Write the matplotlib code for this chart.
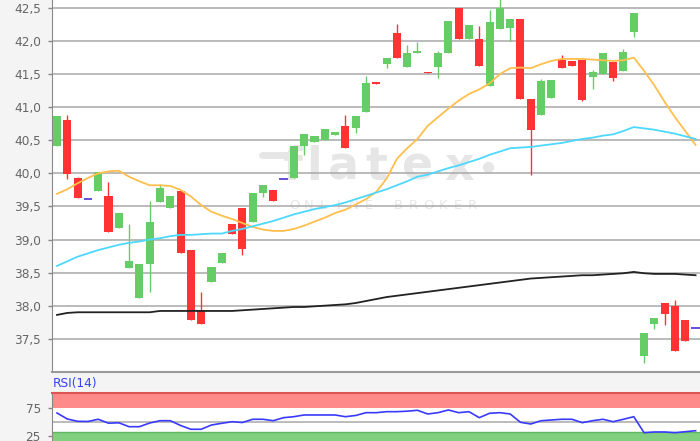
import numpy as np
import matplotlib.pyplot as plt

# price data, one entry per candle
opens = [40.42, 40.80, 39.93, 39.62, 39.73, 39.66, 39.18, 38.57, 38.12, 38.63,
         39.56, 39.48, 39.74, 38.84, 37.93, 38.36, 38.64, 39.23, 39.47, 39.26,
         39.70, 39.75, 39.92, 39.93, 40.41, 40.48, 40.50, 40.58, 40.71, 40.68,
         40.93, 41.37, 41.65, 42.12, 41.61, 41.82, 41.53, 41.61, 41.82, 42.50,
         42.03, 42.03, 41.32, 42.18, 42.20, 42.33, 41.13, 40.88, 41.14, 41.71,
         41.70, 41.71, 41.46, 41.50, 41.69, 41.55, 42.14, 37.24, 37.73, 38.04,
         38.00, 37.78, 37.66]
closes = [40.86, 39.99, 39.63, 39.62, 40.02, 39.12, 39.40, 38.67, 38.63, 39.27,
          39.78, 39.66, 38.80, 37.79, 37.73, 38.58, 38.80, 39.08, 38.85, 39.71,
          39.82, 39.58, 39.92, 40.41, 40.59, 40.57, 40.67, 40.63, 40.39, 40.87,
          41.37, 41.35, 41.74, 41.75, 41.82, 41.84, 41.51, 41.82, 42.31, 42.03,
          42.25, 41.62, 42.29, 42.50, 42.33, 41.12, 40.66, 41.40, 41.41, 41.59,
          41.63, 41.11, 41.54, 41.82, 41.44, 41.83, 42.43, 37.59, 37.82, 37.87,
          37.32, 37.46, 37.66]
highs = [40.87, 40.88, 39.94, 39.62, 40.02, 39.87, 39.40, 39.23, 38.63, 39.58,
         39.84, 39.66, 39.74, 38.84, 38.20, 38.58, 38.80, 39.23, 39.47, 39.71,
         39.82, 39.75, 39.92, 40.41, 40.59, 40.57, 40.67, 40.63, 40.88, 40.87,
         41.47, 41.37, 41.74, 42.26, 41.94, 41.99, 41.53, 41.85, 42.31, 42.50,
         42.25, 42.23, 42.47, 42.65, 42.33, 42.33, 41.13, 41.43, 41.41, 41.79,
         41.70, 41.71, 41.57, 41.82, 41.69, 41.88, 42.43, 37.59, 37.82, 38.04,
         38.08, 37.78, 37.66]
lows = [40.42, 39.92, 39.63, 39.62, 39.73, 39.12, 39.18, 38.57, 38.12, 38.20,
        39.56, 39.48, 38.80, 37.79, 37.73, 38.36, 38.64, 39.08, 38.77, 39.26,
        39.65, 39.58, 39.92, 39.93, 40.28, 40.48, 40.50, 40.58, 40.39, 40.61,
        40.93, 41.35, 41.59, 41.75, 41.61, 41.82, 41.51, 41.44, 41.82, 42.03,
        42.03, 41.62, 41.32, 42.18, 42.00, 41.12, 39.97, 40.88, 41.14, 41.59,
        41.63, 41.09, 41.28, 41.50, 41.40, 41.55, 42.06, 37.14, 37.65, 37.71,
        37.32, 37.46, 37.66]

# moving averages
ma_short = [39.69, 39.76, 39.85, 39.93, 40.00, 40.03, 40.04, 39.95, 39.88, 39.82,
            39.82, 39.81, 39.75, 39.65, 39.52, 39.42, 39.36, 39.31, 39.25, 39.19,
            39.15, 39.13, 39.13, 39.16, 39.21, 39.27, 39.33, 39.40, 39.45, 39.53,
            39.61, 39.72, 39.92, 40.22, 40.38, 40.52, 40.72, 40.85, 40.98, 41.10,
            41.20, 41.27, 41.36, 41.50, 41.59, 41.60, 41.59, 41.65, 41.70, 41.73,
            41.73, 41.73, 41.72, 41.71, 41.70, 41.71, 41.75, 41.55, 41.33, 41.08,
            40.85, 40.64, 40.43]
ma_mid = [38.60, 38.67, 38.74, 38.79, 38.84, 38.88, 38.92, 38.95, 38.97, 39.00,
          39.02, 39.05, 39.07, 39.07, 39.08, 39.09, 39.09, 39.13, 39.16, 39.20,
          39.24, 39.28, 39.33, 39.38, 39.42, 39.46, 39.49, 39.52, 39.56, 39.61,
          39.66, 39.71, 39.76, 39.82, 39.88, 39.95, 39.98, 40.03, 40.08, 40.12,
          40.17, 40.22, 40.28, 40.33, 40.38, 40.39, 40.40, 40.42, 40.44, 40.46,
          40.49, 40.52, 40.54, 40.57, 40.59, 40.64, 40.70, 40.68, 40.66, 40.63,
          40.60, 40.56, 40.52]
ma_long = [37.86, 37.89, 37.90, 37.90, 37.90, 37.90, 37.90, 37.90, 37.90, 37.90,
           37.92, 37.92, 37.92, 37.92, 37.92, 37.92, 37.92, 37.92, 37.93, 37.94,
           37.95, 37.96, 37.97, 37.98, 37.98, 37.99, 38.00, 38.01, 38.02, 38.04,
           38.07, 38.10, 38.13, 38.15, 38.17, 38.19, 38.21, 38.23, 38.25, 38.27,
           38.29, 38.31, 38.33, 38.35, 38.37, 38.39, 38.41, 38.42, 38.43, 38.44,
           38.45, 38.46, 38.46, 38.47, 38.48, 38.49, 38.51, 38.49, 38.48, 38.48,
           38.48, 38.47, 38.46]

rsi = [66.8, 55.9, 51.7, 51.4, 55.4, 48.3, 49.0, 41.9, 41.9, 48.6,
       52.8, 52.8, 44.1, 37.2, 37.2, 45.0, 48.1, 51.0, 49.5, 55.4,
       55.4, 52.8, 58.3, 60.1, 63.2, 63.2, 63.2, 63.2, 60.1, 62.3,
       67.4, 67.4, 69.2, 69.2, 70.1, 71.7, 65.0, 67.4, 72.3, 67.4,
       69.2, 58.3, 66.3, 67.4, 65.0, 49.9, 46.8, 52.8, 54.1, 55.4,
       55.4, 49.2, 52.8, 55.4, 51.0, 55.4, 60.1, 31.0, 32.3, 32.3,
       31.0, 32.8, 34.6]

price_ticks = [37.5, 38.0, 38.5, 39.0, 39.5, 40.0, 40.5, 41.0, 41.5, 42.0, 42.5]
price_labels = ['37,5', '38,0', '38,5', '39,0', '39,5', '40,0', '40,5', '41,0', '41,5', '42,0', '42,5']
rsi_ticks = [25, 75]
rsi_labels = ['25', '75']

green = '#66cc66'
red = '#ff3333'
doji = '#5b3fd6'

o = np.array(opens)
c = np.array(closes)
h = np.array(highs)
l = np.array(lows)
x = np.arange(len(o))
up = c > o
down = c < o
flat = c == o

fig = plt.figure(figsize=(7, 4.41), dpi=100, facecolor='#f4f4f4')
ax = fig.add_axes([52 / 700, 69 / 441, 648 / 700, 372 / 441])
ax.set_facecolor('white')
ax.set_xlim(-0.485, 62.43)
ax.set_ylim(36.997, 42.621)

# gridlines
for t in price_ticks:
    ax.axhline(t, color='#a8a8a8', lw=1.1, zorder=1)

# watermark
wm = '#e6e6e6'
for ch, px in zip('flatex', [292, 314, 343, 376, 418, 459]):
    ax.text((px - 52) / 648, 1 - 180 / 372, ch, transform=ax.transAxes, fontsize=33,
            fontweight='bold', color=wm, ha='center', va='baseline', zorder=0)
ax.plot([(262 - 52) / 648, (288 - 52) / 648], [1 - 155 / 372] * 2, color=wm, lw=5,
        transform=ax.transAxes, zorder=0, solid_capstyle='round')
ax.plot([(488 - 52) / 648], [1 - 167 / 372], 'o', ms=7, color=wm, transform=ax.transAxes, zorder=0)
for i, ch in enumerate('ONLINE BROKER'):
    ax.text((294 + i * 14.9 - 52) / 648, 1 - 206 / 372, ch, transform=ax.transAxes,
            fontsize=9.5, color=wm, ha='center', va='center', zorder=0)

# candles
bw = 0.78
ax.vlines(x[up], l[up], h[up], color=green, lw=1, zorder=3)
ax.vlines(x[down], l[down], h[down], color=red, lw=1, zorder=3)
ax.bar(x[up], np.maximum(c - o, 0.03)[up], bottom=o[up], width=bw, color=green, zorder=4)
ax.bar(x[down], np.maximum(o - c, 0.03)[down], bottom=c[down], width=bw, color=red, zorder=4)
ax.hlines(c[flat], x[flat] - 0.42, x[flat] + 0.42, color=doji, lw=1.3, zorder=4)

# moving averages
ax.plot(x, ma_short, color='#ffbf4d', lw=1.3, zorder=5)
ax.plot(x, ma_mid, color='#4dd8ff', lw=1.3, zorder=5)
ax.plot(x, ma_long, color='#222222', lw=1.3, zorder=5)

ax.set_xticks([])
ax.set_yticks(price_ticks)
ax.set_yticklabels(price_labels)
ax.tick_params(axis='y', length=3, width=1, color='#888888', labelcolor='#666666',
               labelsize=8.7, pad=5)
for s in ['top', 'right']:
    ax.spines[s].set_visible(False)
ax.spines['left'].set_color('#888888')
ax.spines['bottom'].set_color('#999999')
ax.spines['bottom'].set_linewidth(1.5)

# RSI panel
fig.text(53 / 700, 1 - 384 / 441, 'RSI(14)', color='#3344ee', fontsize=8.7, va='center')
ax2 = fig.add_axes([52 / 700, 0, 648 / 700, 48.3 / 441])
ax2.set_facecolor('white')
ax2.set_xlim(-0.485, 62.43)
ax2.set_ylim(15.9, 103.7)
ax2.axhspan(75, 103.7, color='#ff8a8a', lw=0, zorder=1)
ax2.axhspan(15.9, 32, color='#80d080', lw=0, zorder=1)
ax2.axhline(32, color='#5fb85f', lw=1, zorder=1)
ax2.axhline(50, color='#a8a8a8', lw=1.1, zorder=1)
ax2.plot(x, rsi, color='#3a3aff', lw=1.2, zorder=3)
ax2.set_xticks([])
ax2.set_yticks(rsi_ticks)
ax2.set_yticklabels(rsi_labels)
ax2.tick_params(axis='y', length=3, width=1, color='#888888', labelcolor='#666666',
                labelsize=8.7, pad=5)
ax2.spines['right'].set_visible(False)
ax2.spines['bottom'].set_visible(False)
ax2.spines['left'].set_color('#888888')
ax2.spines['top'].set_color('#dd5555')
ax2.spines['top'].set_linewidth(1.5)

fig.savefig('out.png', dpi=100, facecolor=fig.get_facecolor())
